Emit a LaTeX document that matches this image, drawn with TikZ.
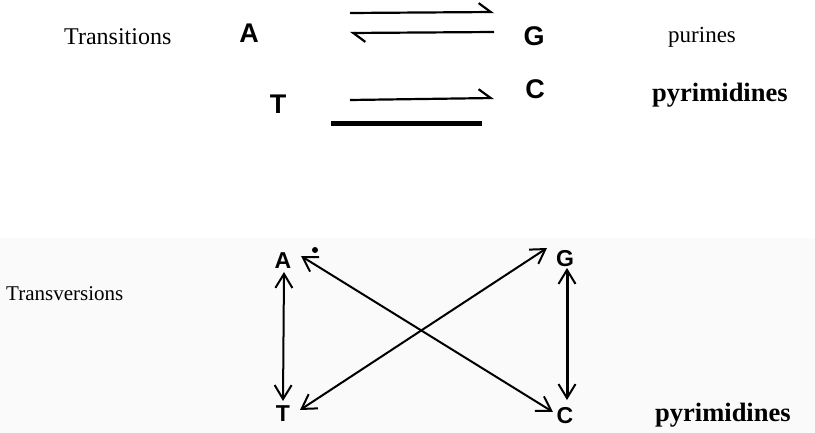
\documentclass[tikz,border=0pt]{standalone}
\usepackage{fontspec}
\setmainfont{Liberation Serif}
\newfontfamily\basefont{Liberation Sans}
\usetikzlibrary{arrows.meta}
\begin{document}
\begin{tikzpicture}[x=1pt,y=-1pt,
  base/.style={font=\basefont\bfseries\fontsize{27}{27}\selectfont, inner sep=0pt},
  baseS/.style={font=\basefont\bfseries\fontsize{23}{23}\selectfont, inner sep=0pt},
  lbl/.style={font=\fontsize{24}{24}\selectfont, inner sep=0pt, anchor=west},
  boldlbl/.style={font=\bfseries\fontsize{26.5}{26.5}\selectfont, inner sep=0pt, anchor=west},
  harp/.style={line width=2.2pt, -{Straight Barb[harpoon,length=12pt,width=18pt,line width=2.2pt]}},
  dbl/.style={line width=2pt, {Straight Barb[length=14pt,width=17pt,line width=2pt]}-{Straight Barb[length=14pt,width=17pt,line width=2pt]}}
]
\useasboundingbox (0,0) rectangle (815,433);
\fill[black!2] (0,238) rectangle (815,433);

% Transitions
\node[lbl] (trs) at (64,37) {Transitions};
\node[base] (A1) at (249,33) {A};
\node[base] (G1) at (534,36) {G};
\node[lbl, font=\fontsize{23}{23}\selectfont] (pur) at (668,37) {purines};
\node[base] (T1) at (278,104) {T};
\node[base] (C1) at (535,89) {C};
\node[boldlbl] (pyr1) at (652,95) {pyrimidines};

\coordinate (h1a) at (350,13);
\coordinate (h1b) at (494,12);
\coordinate (h2a) at (494,32);
\coordinate (h2b) at (350,33);
\coordinate (h3a) at (350,100);
\coordinate (h3b) at (494,98);
\coordinate (b1) at (331,124);
\coordinate (b2) at (482,124);
\draw[harp] (h1a) -- (h1b);
\draw[harp] (h2a) -- (h2b);
\draw[harp] (h3a) -- (h3b);
\draw[line width=5pt] (b1) -- (b2);

% Transversions
\node[lbl, font=\fontsize{21}{21}\selectfont] (trv) at (6,294) {Transversions};
\node[baseS] (A2) at (283,261) {A};
\node[baseS] (G2) at (565,259) {G};
\node[baseS] (T2) at (283,414) {T};
\node[baseS] (C2) at (565,416) {C};
\node[boldlbl] (pyr2) at (655,415) {pyrimidines};
\fill (315,250) circle (3pt);

\coordinate (at1) at (284,272);
\coordinate (at2) at (283,401);
\coordinate (gc1) at (567,268);
\coordinate (gc2) at (567,400);
\coordinate (ac1) at (301,256);
\coordinate (ac2) at (553,412);
\coordinate (tg1) at (300,410);
\coordinate (tg2) at (547,248);
\draw[dbl] (at1) -- (at2);
\draw[dbl, line width=3pt] (gc1) -- (gc2);
\draw[dbl] (ac1) -- (ac2);
\draw[dbl] (tg1) -- (tg2);
\end{tikzpicture}
\end{document}
